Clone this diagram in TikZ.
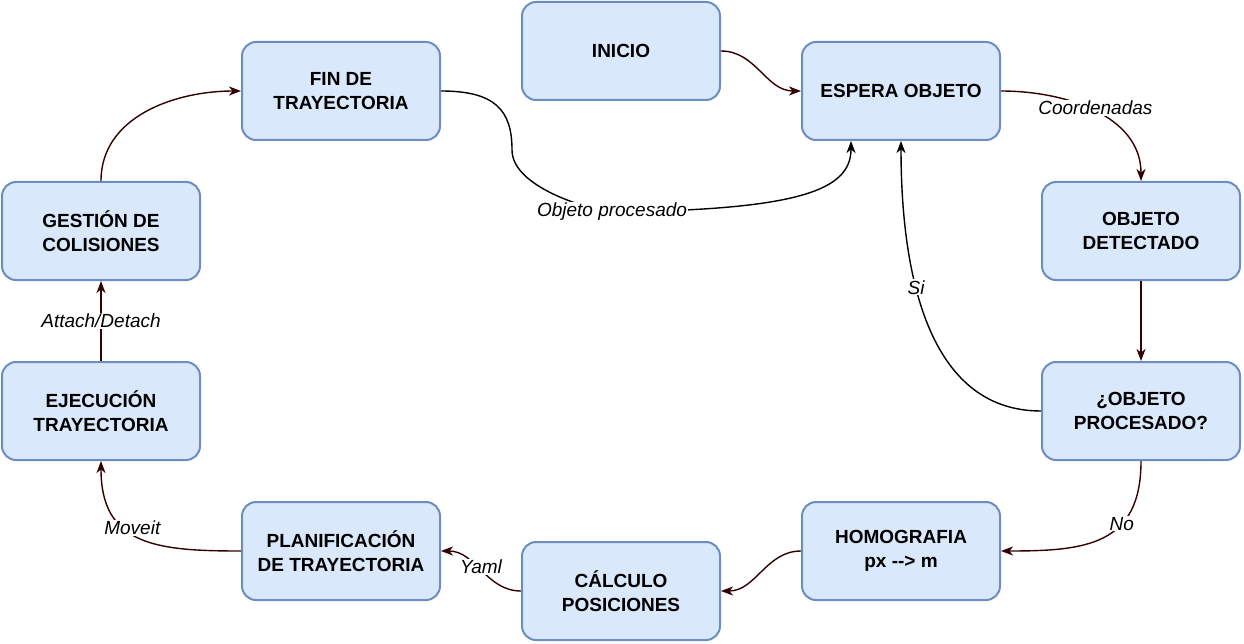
\documentclass[tikz,border=0pt]{standalone}
\usepackage{fontspec}
\setmainfont{Liberation Sans}
\usetikzlibrary{arrows.meta, positioning}
\definecolor{boxfill}{HTML}{DAE8FC}
\definecolor{boxdraw}{HTML}{6C8EBF}
\definecolor{flecha}{HTML}{330000}

\begin{document}
\begin{tikzpicture}[x=1pt, y=-1pt, ->, >={Stealth[length=12pt, width=9pt, inset=3.5pt]},
                    line width=1.4pt, node distance=80pt]
  \tikzstyle{estado}=[rectangle, rounded corners=14pt, fill=boxfill, draw=boxdraw, line width=2pt,
                      minimum width=198pt, minimum height=98pt, align=center, text=black,
                      font=\fontsize{19}{24}\selectfont\bfseries]
  \tikzstyle{etiqueta}=[fill=white, inner sep=1pt, text=black, font=\fontsize{19}{23}\selectfont\itshape]
  \tikzstyle{flujo}=[draw=flecha]
  \tikzstyle{flujonegro}=[draw=black]

  \useasboundingbox (0,0) rectangle (1244,644);

  \node[estado] (inicio)     at (621,51)   {INICIO};
  \node[estado] (espera)     at (901,91)   {ESPERA OBJETO};
  \node[estado] (fin)        at (341,91)   {FIN DE\\TRAYECTORIA};
  \node[estado] (objdet)     at (1141,231) {OBJETO\\DETECTADO};
  \node[estado] (objproc)    [below=of objdet]  {¿OBJETO\\PROCESADO?};
  \node[estado] (gestion)    at (101,231)  {GESTIÓN DE\\COLISIONES};
  \node[estado] (ejecucion)  [below=of gestion] {EJECUCIÓN\\TRAYECTORIA};
  \node[estado] (homografia) at (901,551)  {HOMOGRAFIA\\px -{}-> m};
  \node[estado] (calculo)    at (621,591)  {CÁLCULO\\POSICIONES};
  \node[estado] (planif)     at (341,551)  {PLANIFICACIÓN\\DE TRAYECTORIA};

  \path
        (inicio)     edge [flujo, out=0, in=180]                  (espera)
        (espera)     edge [flujo, out=0, in=90]    node[etiqueta, pos=0.5, yshift=4pt] {Coordenadas} (objdet)
        (objdet)     edge [flujo]                                 (objproc)
        (objproc)    edge [flujonegro, out=180, in=-90] node[etiqueta, pos=0.6] {Si} (espera)
        (objproc)    edge [flujo, out=-90, in=0, looseness=1.3] node[etiqueta, pos=0.35] {No} (homografia)
        (homografia) edge [flujo, out=180, in=0]                  (calculo)
        (calculo)    edge [flujo, out=180, in=0]   node[etiqueta, yshift=4pt] {Yaml} (planif)
        (planif)     edge [flujo, out=180, in=-90, looseness=1.3] node[etiqueta, pos=0.55, yshift=6pt] {Moveit} (ejecucion)
        (ejecucion)  edge [flujo]                  node[etiqueta] {Attach/Detach} (gestion)
        (gestion)    edge [flujo, out=90, in=180]                 (fin);

  % vuelta al estado de espera
  \draw[flujonegro] (fin.east) .. controls (495,91) and (512,110) .. (512,150)
        .. controls (512,190) and (600,212) .. (612,212) node[etiqueta] {Objeto procesado}
        .. controls (800,210) and (851,190) .. ([xshift=-50pt]espera.south);
\end{tikzpicture}
\end{document}
